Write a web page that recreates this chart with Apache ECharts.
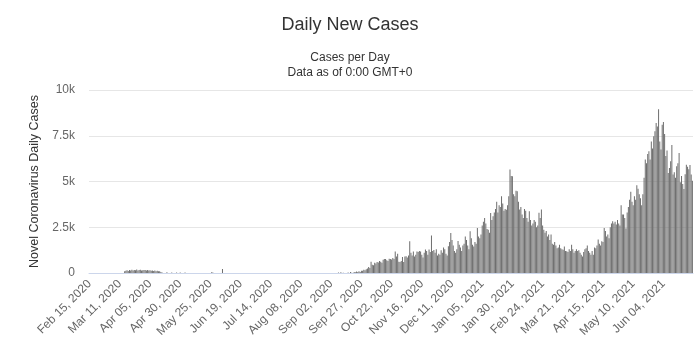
<!DOCTYPE html>
<html>
<head>
<meta charset="utf-8">
<script src="https://cdn.jsdelivr.net/npm/echarts@6/dist/echarts.min.js"></script>
<style>
html,body{margin:0;padding:0;background:#fff;}
#chart{width:700px;height:360px;}
</style>
</head>
<body>
<div id="chart"></div>
<script>
// Daily new cases, starting Feb 15, 2020
const startDate = [2020, 1, 15]; // year, month index, day
const cases2020Spring = [
  0,0,0,0,0,0,0,0,0,0,0,0,0,0,0,                     // Feb 15-29
  0,0,0,0,0,0,0,0,0,0,0,0,0,0,                       // Mar 1-14
  90,120,150,110,160,140,180,130,170,150,190,140,160,180,130,150,170, // Mar 15-31
  160,140,170,130,150,120,140,110,130,100,120,90,100, // Apr 1-13
  60,30,0,0,0,40,0,0,0,30,0,0,0,30,0,0,30,            // Apr 14-30
  0,0,0,30,0,0,0,0,0,0,0,0,0,0,0,0,0,0,0,0,0,0,0,0,0,40,30,0,0,0,0, // May
  0,0,0,220,0,0,0,0,0,0,0,0,0,0,0,0,0,0,0,0,0,0,0,0,0,0,0,0,0,0      // Jun
];
const cases2020Summer = [
  0,0,0,0,0,0,0,0,0,0,0,0,0,0,0,0,0,0,0,0,0,0,0,0,0,0,0,0,0,0,0, // Jul
  0,0,0,0,0,0,0,0,0,0,0,0,0,0,0,0,0,0,0,0,0,0,0,0,0,0,0,0,0,0,0, // Aug
  0,0,0,0,0,0,0,30,0,40,0,20,0,0,0,30,0,50,20,0,60,40,80,50,100,60,120,120,180,150 // Sep
];
const cases2020Autumn = [
  200,240,330,280,620,450,420,560,520,600,580,650,620,560,720,770,760,700,650,780,770,740,820,760,1180,900,1050,620,600,650,880, // Oct
  600,900,920,850,950,1740,1100,950,1170,900,1000,1180,1150,1200,1180,1000,850,1100,1280,1200,1000,1280,1150,2050,1200,1260,1100,1300,950,1050, // Nov
  1000,1250,1100,1400,1300,1050,950,1460,1700,2190,1800,1500,1200,1100,1300,1750,1550,1400,1200,1500,1600,2000,1800,1500,1300,2280,1900,1550,1450,1700,1600 // Dec
];
const cases2021Winter = [
  2460,2000,1900,2100,2600,2800,3000,2700,2400,2370,2200,3280,2900,3100,3300,3500,3900,3300,3700,3600,4200,3800,3400,3500,3450,3700,4200,5650,5300,5290,4300, // Jan
  4200,4500,4470,3900,3470,3600,3200,3000,3500,3400,3000,2800,3370,2900,2600,2700,2900,2800,2500,2600,3290,3000,3470,2600,2370,2200,2300,2000, // Feb
  2100,1800,2100,1600,1550,1700,1500,1350,1400,1550,1350,1300,1270,1450,1200,1190,1150,1300,1200,1550,1300,1100,1200,1300,1200,1250,1100,1000,900,1150,1300 // Mar
];
const cases2021Spring = [
  1350,1500,1200,1100,1000,1200,1000,1400,1350,1500,1830,1600,1500,1730,1700,2460,2300,2000,2100,1900,2500,2700,2830,2700,2800,2650,2900,2700,2600,3700, // Apr
  3200,3200,3000,2430,3300,3600,4000,4440,3900,3700,4200,4000,4800,4600,4300,4080,3700,4300,5200,6200,6000,6500,6650,6200,7190,6800,7470,7740,8200,8000,8950, // May
  7190,6750,8100,8250,7600,6400,6700,5470,5740,6100,7000,5380,5500,5200,5830,6000,6560,4960,5300,4870,4590,5400,5920,5800,5670,5900,5380,5040 // Jun 1-28
];
const yTicks = [0, 2500, 5000, 7500, 10000];
const yTickLabels = ['0', '2.5k', '5k', '7.5k', '10k'];

const dailyCases = [].concat(cases2020Spring, cases2020Summer, cases2020Autumn, cases2021Winter, cases2021Spring);
const monthNames = ['Jan','Feb','Mar','Apr','May','Jun','Jul','Aug','Sep','Oct','Nov','Dec'];
const dates = [];
for (let i = 0; i < dailyCases.length; i++) {
  const d = new Date(Date.UTC(startDate[0], startDate[1], startDate[2] + i));
  const dd = String(d.getUTCDate()).padStart(2, '0');
  dates.push(monthNames[d.getUTCMonth()] + ' ' + dd + ', ' + d.getUTCFullYear());
}

const FONT = "'Liberation Sans', Arial, sans-serif";
const chart = echarts.init(document.getElementById('chart'), null, {renderer: 'canvas'});
chart.setOption({
  animation: false,
  backgroundColor: '#ffffff',
  textStyle: {fontFamily: FONT},
  title: [
    {text: 'Daily New Cases', left: 'center', top: 11,
     textStyle: {fontSize: 18, fontWeight: 'normal', color: '#333333', fontFamily: FONT}},
    {text: 'Cases per Day\nData as of 0:00 GMT+0', left: 'center', top: 45,
     textStyle: {fontSize: 12, lineHeight: 15, fontWeight: 'normal', color: '#333333', fontFamily: FONT}}
  ],
  grid: {left: 89, right: 7, top: 90, bottom: 87, containLabel: false},
  xAxis: {
    type: 'category',
    data: dates,
    boundaryGap: true,
    axisLine: {show: true, lineStyle: {color: '#ccd6eb', width: 1}},
    axisTick: {show: false},
    axisLabel: {interval: 24, rotate: 45, margin: 9, fontSize: 12, color: '#666666', fontFamily: FONT},
    splitLine: {show: false}
  },
  yAxis: {
    type: 'value',
    min: yTicks[0], max: yTicks[yTicks.length - 1], interval: yTicks[1] - yTicks[0],
    name: 'Novel Coronavirus Daily Cases',
    nameLocation: 'middle',
    nameGap: 46,
    nameTextStyle: {fontSize: 12.5, color: '#333333', fontFamily: FONT},
    axisLine: {show: false},
    axisTick: {show: false},
    axisLabel: {
      margin: 14, fontSize: 12, color: '#666666', fontFamily: FONT,
      formatter: function (v) { const k = yTicks.indexOf(v); return k >= 0 ? yTickLabels[k] : ''; }
    },
    splitLine: {lineStyle: {color: '#e6e6e6', width: 1}}
  },
  series: [{
    type: 'bar',
    data: dailyCases,
    barCategoryGap: '32%',
    itemStyle: {color: '#6e6e6e'}
  }]
});
</script>
</body>
</html>
